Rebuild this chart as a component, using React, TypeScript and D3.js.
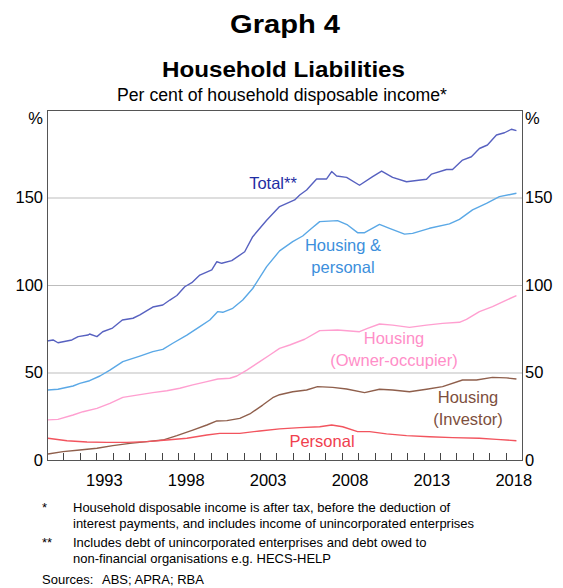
import React, { useEffect, useRef } from 'react';
import * as d3 from 'd3';

// [year, per cent of household disposable income]
const totalData: [number, number][] = [
  [1990.0, 68], [1990.37, 68.6], [1990.67, 67], [1991.52, 68.6], [1991.9, 70.5], [1992.5, 71.4],
  [1992.6, 72], [1993.05, 70.5], [1993.4, 73.3], [1994.0, 75.4], [1994.6, 80], [1995.25, 81],
  [1995.67, 82.9], [1996.1, 85.3], [1996.46, 87.4], [1997.07, 88.6], [1997.5, 91.4], [1997.93, 94],
  [1998.41, 99], [1998.84, 101.3], [1999.33, 105.7], [2000.06, 108.6], [2000.37, 113.3], [2000.67, 112.4],
  [2001.28, 113.9], [2002.07, 119], [2002.56, 127.6], [2003.41, 137], [2004.2, 144.8], [2005.12, 148.6],
  [2005.43, 151.4], [2005.85, 154.3], [2006.46, 160.6], [2007.07, 160.6], [2007.38, 164.8], [2007.68, 162.3],
  [2008.29, 161.5], [2009.08, 157], [2009.88, 161.9], [2010.43, 165.1], [2011.1, 161.5], [2011.95, 159],
  [2013.17, 160.4], [2013.48, 163.4], [2014.39, 166], [2014.76, 166], [2015.37, 171.4], [2015.91, 173.3],
  [2016.4, 178], [2016.89, 180], [2017.44, 185.7], [2017.93, 187], [2018.35, 189], [2018.66, 188.2],
];

const housingPersonalData: [number, number][] = [
  [1990.06, 40], [1990.67, 40.4], [1991.59, 42.3], [1992.0, 43.8], [1992.6, 45.3], [1993.23, 48],
  [1993.84, 51.4], [1994.63, 56.2], [1995.67, 59.4], [1996.46, 61.9], [1997.07, 63.2], [1997.68, 66.7],
  [1998.54, 71.4], [1999.33, 76.2], [1999.94, 80], [2000.43, 84.8], [2000.73, 84.4], [2001.34, 86.7],
  [2001.95, 91.4], [2002.56, 98], [2003.41, 110.5], [2004.2, 119.5], [2005.0, 124.8], [2005.61, 128],
  [2006.16, 132.4], [2006.65, 136.2], [2007.74, 136.8], [2008.35, 134.3], [2008.96, 129.9], [2009.39, 129.9],
  [2010.3, 134.6], [2010.91, 132.4], [2011.83, 129.1], [2012.32, 129.5], [2013.35, 132.4], [2014.57, 134.9],
  [2015.18, 137.5], [2015.98, 142.9], [2016.83, 146.7], [2017.62, 150.5], [2018.66, 152.4],
];

const ownerOccupierData: [number, number][] = [
  [1990.06, 22.9], [1990.67, 23.2], [1991.59, 25.7], [1992.2, 27.6], [1993.05, 29.5], [1993.84, 32.4],
  [1994.63, 35.8], [1995.49, 37.1], [1996.46, 38.5], [1997.32, 39.6], [1998.11, 41], [1998.9, 42.9],
  [1999.76, 44.8], [2000.43, 46.3], [2001.16, 46.7], [2001.59, 48], [2002.2, 51.4], [2002.99, 56.2],
  [2003.6, 60], [2004.2, 63.8], [2004.82, 65.7], [2005.73, 69], [2006.65, 73.9], [2007.74, 74.3],
  [2009.08, 73.3], [2009.57, 75.2], [2010.3, 77.7], [2011.1, 77.1], [2012.13, 75.8], [2013.17, 77.1],
  [2014.15, 78.1], [2015.18, 78.7], [2015.61, 80.4], [2016.4, 84.8], [2017.2, 87.6], [2018.05, 91.4],
  [2018.66, 93.9],
];

const investorData: [number, number][] = [
  [1990.06, 3.4], [1990.98, 4.8], [1992.0, 5.7], [1993.05, 6.7], [1994.02, 8.2], [1995.06, 9.5],
  [1996.1, 10.5], [1997.07, 11.4], [1997.93, 13.9], [1998.9, 17.1], [1999.76, 20], [2000.37, 22.3],
  [2000.98, 22.5], [2001.77, 23.8], [2002.38, 26.3], [2003.17, 31.4], [2003.78, 35.6], [2004.2, 37.3],
  [2005.0, 39], [2005.85, 40], [2006.52, 41.9], [2007.44, 41.5], [2008.29, 40.6], [2009.39, 38.5],
  [2010.3, 40.4], [2011.1, 40], [2012.13, 39], [2013.17, 40.4], [2014.15, 41.9], [2015.37, 45.7],
  [2016.22, 45.7], [2017.2, 47.2], [2018.05, 46.9], [2018.66, 46.3],
];

const personalData: [number, number][] = [
  [1990.06, 12.4], [1991.22, 11], [1992.44, 10.3], [1993.66, 10.1], [1994.88, 10.1], [1996.1, 10.5],
  [1997.32, 11.4], [1998.54, 12.4], [1999.76, 14.3], [2000.55, 15.2], [2001.77, 15.2], [2002.99, 16.6],
  [2004.2, 17.8], [2005.43, 18.5], [2006.65, 19], [2007.38, 20], [2008.05, 19], [2008.96, 16.2],
  [2009.7, 16.2], [2010.73, 14.9], [2011.95, 13.9], [2013.35, 13.3], [2014.76, 12.8], [2016.4, 12.4],
  [2017.44, 11.8], [2018.66, 11],
];

const yTicks = [0, 50, 100, 150];
const yearLabels = [1993, 1998, 2003, 2008, 2013, 2018];

const footnotes = [
  { mark: '*', lines: ['Household disposable income is after tax, before the deduction of', 'interest payments, and includes income of unincorporated enterprises'] },
  { mark: '**', lines: ['Includes debt of unincorporated enterprises and debt owed to', 'non-financial organisations e.g. HECS-HELP'] },
];

const App: React.FC = () => {
  const svgRef = useRef<SVGSVGElement>(null);

  useEffect(() => {
    if (!svgRef.current) return;
    const width = 563;
    const height = 588;
    const plot = { left: 47, right: 522, top: 110, bottom: 460 };
    const font = '"Liberation Sans", Arial, sans-serif';

    const svg = d3.select(svgRef.current);
    svg.selectAll('*').remove();
    svg.attr('width', width).attr('height', height);

    const x = d3.scaleLinear().domain([1990, 2019]).range([plot.left, plot.right]);
    const y = d3.scaleLinear().domain([0, 200]).range([plot.bottom, plot.top]);

    // Titles
    const titles = [
      { text: 'Graph 4', y: 33, size: 25.5, weight: 'bold', len: 110, cx: 285 },
      { text: 'Household Liabilities', y: 77, size: 22.5, weight: 'bold', len: 243, cx: 283.5 },
      { text: 'Per cent of household disposable income*', y: 101, size: 17.5, weight: 'normal', len: 330, cx: 282 },
    ];
    titles.forEach(t => {
      svg.append('text')
        .attr('x', t.cx)
        .attr('y', t.y)
        .attr('text-anchor', 'middle')
        .attr('font-family', font)
        .attr('font-size', t.size)
        .attr('font-weight', t.weight)
        .attr('textLength', t.len)
        .attr('lengthAdjust', 'spacingAndGlyphs')
        .attr('fill', '#000')
        .text(t.text);
    });

    // Grid lines
    svg.append('g')
      .selectAll('line')
      .data(yTicks.filter(d => d > 0))
      .enter()
      .append('line')
      .attr('x1', plot.left)
      .attr('x2', plot.right)
      .attr('y1', d => y(d) + 0.5)
      .attr('y2', d => y(d) + 0.5)
      .attr('stroke', '#bdbdbd')
      .attr('stroke-width', 1);

    // Year ticks
    svg.append('g')
      .selectAll('line')
      .data(d3.range(1991, 2019))
      .enter()
      .append('line')
      .attr('x1', d => Math.round(x(d)) + 0.5)
      .attr('x2', d => Math.round(x(d)) + 0.5)
      .attr('y1', plot.bottom)
      .attr('y2', plot.bottom - 7)
      .attr('stroke', '#444')
      .attr('stroke-width', 1);

    // Series
    const line = d3.line<[number, number]>()
      .x(d => x(d[0]))
      .y(d => y(d[1]));

    const series = [
      { data: totalData, color: '#5761c0' },
      { data: housingPersonalData, color: '#5aa8e6' },
      { data: ownerOccupierData, color: '#ff9fd0' },
      { data: investorData, color: '#8f5f4c' },
      { data: personalData, color: '#f2545e' },
    ];
    series.forEach(s => {
      svg.append('path')
        .datum(s.data)
        .attr('fill', 'none')
        .attr('stroke', s.color)
        .attr('stroke-width', 1.4)
        .attr('stroke-linejoin', 'round')
        .attr('d', line);
    });

    // Frame
    svg.append('rect')
      .attr('x', plot.left + 0.5)
      .attr('y', plot.top + 0.5)
      .attr('width', plot.right - plot.left)
      .attr('height', plot.bottom - plot.top)
      .attr('fill', 'none')
      .attr('stroke', '#555')
      .attr('stroke-width', 1);

    // Y tick labels, both sides
    yTicks.forEach(v => {
      svg.append('text')
        .attr('x', plot.left - 4)
        .attr('y', y(v))
        .attr('dy', '0.35em')
        .attr('text-anchor', 'end')
        .attr('font-family', font)
        .attr('font-size', 16.5)
        .text(v);
      svg.append('text')
        .attr('x', plot.right + 3)
        .attr('y', y(v))
        .attr('dy', '0.35em')
        .attr('text-anchor', 'start')
        .attr('font-family', font)
        .attr('font-size', 16.5)
        .text(v);
    });
    svg.append('text')
      .attr('x', plot.left - 4).attr('y', 124)
      .attr('text-anchor', 'end')
      .attr('font-family', font).attr('font-size', 16.5)
      .text('%');
    svg.append('text')
      .attr('x', plot.right + 3).attr('y', 124)
      .attr('font-family', font).attr('font-size', 16.5)
      .text('%');

    // X labels
    yearLabels.forEach(yr => {
      svg.append('text')
        .attr('x', x(yr + 0.5))
        .attr('y', 486)
        .attr('text-anchor', 'middle')
        .attr('font-family', font)
        .attr('font-size', 16.5)
        .text(yr);
    });

    // Series labels
    const labels = [
      { lines: ['Total**'], x: 273, y: 189, color: '#1f2ea3' },
      { lines: ['Housing &', 'personal'], x: 343, y: 251, color: '#3c8fdc' },
      { lines: ['Housing', '(Owner-occupier)'], x: 394, y: 344, color: '#ff8ec8' },
      { lines: ['Housing', '(Investor)'], x: 468, y: 403, color: '#7d4f3e' },
      { lines: ['Personal'], x: 322, y: 447, color: '#f0404e' },
    ];
    labels.forEach(l => {
      const t = svg.append('text')
        .attr('x', l.x)
        .attr('y', l.y)
        .attr('text-anchor', 'middle')
        .attr('font-family', font)
        .attr('font-size', 16.5)
        .attr('fill', l.color);
      l.lines.forEach((ln, i) => {
        t.append('tspan')
          .attr('x', l.x)
          .attr('dy', i === 0 ? 0 : 22)
          .text(ln);
      });
    });

    // Footnotes
    let fy = 512;
    footnotes.forEach(f => {
      svg.append('text')
        .attr('x', 42).attr('y', fy)
        .attr('font-family', font).attr('font-size', 13)
        .text(f.mark);
      f.lines.forEach((ln, i) => {
        svg.append('text')
          .attr('x', 73).attr('y', fy + i * 16)
          .attr('font-family', font).attr('font-size', 13)
          .text(ln);
      });
      fy += 35;
    });
    svg.append('text')
      .attr('x', 42).attr('y', 584)
      .attr('font-family', font).attr('font-size', 13)
      .text('Sources:');
    svg.append('text')
      .attr('x', 102).attr('y', 584)
      .attr('font-family', font).attr('font-size', 13)
      .text('ABS; APRA; RBA');
  }, []);

  return (
    <svg ref={svgRef} style={{ position: 'absolute', left: 0, top: 0 }} width={563} height={588}></svg>
  );
};

export default App;
